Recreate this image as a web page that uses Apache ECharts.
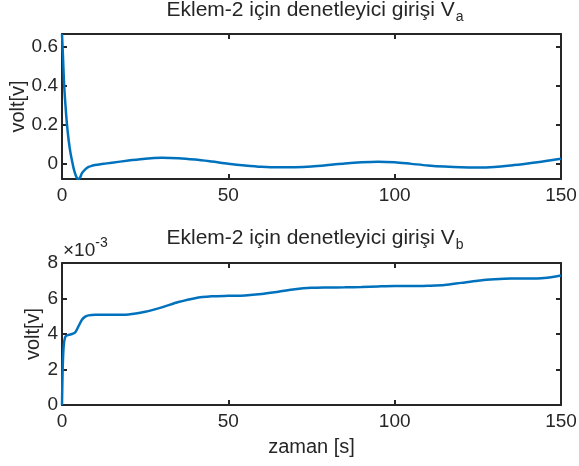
<!DOCTYPE html>
<html>
<head>
<meta charset="utf-8">
<script src="https://cdn.jsdelivr.net/npm/echarts@6/dist/echarts.min.js"></script>
<style>
  html, body { margin: 0; padding: 0; background: #fff; }
  #chart { width: 579px; height: 466px; }
</style>
</head>
<body>
<div id="chart"></div>
<script>
// time [s] and controller input V_a
var timeA = [0, 0.3, 0.6, 1, 1.5, 2, 2.5, 3, 3.5, 4, 4.5, 5, 5.5, 6, 7, 8, 9, 10, 12, 15,
  20, 25, 30, 35, 40, 45, 50, 55, 60, 65, 70, 75, 80, 85, 90, 95, 100, 105, 110, 115,
  120, 125, 130, 135, 140, 145, 150]
var va = [0.668, 0.55, 0.42, 0.31, 0.2, 0.12, 0.06, 0.015, -0.025, -0.055, -0.075, -0.08, -0.07, -0.05, -0.03, -0.018, -0.012, -0.008, -0.003, 0.004,
  0.015, 0.025, 0.029, 0.027, 0.02, 0.01, -0.001, -0.01, -0.017, -0.02, -0.019, -0.015, -0.008, 0.0, 0.006, 0.009, 0.006, -0.002, -0.01, -0.016,
  -0.02, -0.021, -0.018, -0.01, 0.0, 0.011, 0.024]

// time [s] and controller input V_b (in units of 1e-3)
var timeB = [0, 0.2, 0.5, 1, 2, 3, 4, 5, 6, 7, 8, 10, 15, 20, 25, 30, 35, 40, 45, 50,
  55, 60, 65, 70, 75, 80, 85, 90, 95, 100, 105, 110, 115, 120, 125, 130, 135, 140, 145, 150]
var vb = [0, 2.0, 3.3, 3.85, 3.95, 4.0, 4.1, 4.45, 4.8, 4.98, 5.05, 5.08, 5.08, 5.1, 5.25, 5.5, 5.8, 6.02, 6.12, 6.15,
  6.17, 6.25, 6.38, 6.52, 6.6, 6.62, 6.63, 6.65, 6.68, 6.7, 6.7, 6.72, 6.76, 6.88, 7.0, 7.08, 7.12, 7.12, 7.15, 7.3]

var xTicks = [0, 50, 100, 150]
var yTicksA = [0, 0.2, 0.4, 0.6]
var yTicksB = [0, 2, 4, 6, 8]

function pairs(xs, ys) {
  return xs.map(function (x, i) { return [x, ys[i]] })
}

var font = 'Liberation Sans, Arial, sans-serif'
var ink = '#262626'
var lineBlue = '#0072BD'

function xAx(grid, pos, labels, name) {
  return {
    type: 'value', gridIndex: grid, position: pos, min: 0, max: 150,
    name: name || '', nameLocation: 'middle', nameGap: 32, nameMoveOverlap: false,
    nameTextStyle: { fontFamily: font, fontSize: 20, color: ink },
    axisLine: { show: true, onZero: false, lineStyle: { color: ink, width: 2 } },
    axisTick: { show: true, inside: true, length: 5, customValues: xTicks, lineStyle: { color: ink, width: 2 } },
    axisLabel: { show: labels, customValues: xTicks, margin: 7, fontFamily: font, fontSize: 19, color: ink },
    splitLine: { show: false }
  }
}

function yAx(grid, pos, min, max, ticks, labels, gap) {
  return {
    type: 'value', gridIndex: grid, position: pos, min: min, max: max,
    name: labels ? 'volt[v]' : '', nameLocation: 'middle', nameGap: gap, nameMoveOverlap: false,
    nameTextStyle: { fontFamily: font, fontSize: 20, color: ink },
    axisLine: { show: true, onZero: false, lineStyle: { color: ink, width: 2 } },
    axisTick: { show: true, inside: true, length: 5, customValues: ticks, lineStyle: { color: ink, width: 2 } },
    axisLabel: { show: labels, customValues: ticks, margin: 4, fontFamily: font, fontSize: 19, color: ink },
    splitLine: { show: false }
  }
}

var titleRich = {
  n: { fontFamily: font, fontSize: 21, fontWeight: 'normal', color: ink, lineHeight: 24, verticalAlign: 'top' },
  s: { fontFamily: font, fontSize: 14, fontWeight: 'normal', color: ink, lineHeight: 14, verticalAlign: 'bottom', padding: [19, 0, 0, 1] }
}

var chart = echarts.init(document.getElementById('chart'), null, { renderer: 'canvas' })
chart.setOption({
  backgroundColor: '#fff',
  animation: false,
  title: [
    { text: '{n|Eklem-2 için denetleyici girişi V}{s|a}', left: 315, top: 0, padding: 0, textAlign: 'center',
      textStyle: { fontWeight: 'normal', rich: titleRich } },
    { text: '{n|Eklem-2 için denetleyici girişi V}{s|b}', left: 315, top: 228, padding: 0, textAlign: 'center',
      textStyle: { fontWeight: 'normal', rich: titleRich } },
    { text: '{m|×10}{e|-3}', left: 63, top: 236, padding: 0,
      textStyle: { fontWeight: 'normal', rich: {
        m: { fontFamily: font, fontSize: 19, fontWeight: 'normal', color: ink, lineHeight: 24, verticalAlign: 'bottom' },
        e: { fontFamily: font, fontSize: 14, fontWeight: 'normal', color: ink, lineHeight: 14, verticalAlign: 'top' }
      } } }
  ],
  grid: [
    { left: 62, right: 18, top: 34, height: 145, outerBoundsMode: 'none' },
    { left: 62, right: 18, top: 263, height: 142, outerBoundsMode: 'none' }
  ],
  xAxis: [
    xAx(0, 'bottom', true),
    xAx(0, 'top', false),
    xAx(1, 'bottom', true, 'zaman [s]'),
    xAx(1, 'top', false)
  ],
  yAxis: [
    yAx(0, 'left', -0.08, 0.668, yTicksA, true, 34),
    yAx(0, 'right', -0.08, 0.668, yTicksA, false, 0),
    yAx(1, 'left', 0, 8, yTicksB, true, 19),
    yAx(1, 'right', 0, 8, yTicksB, false, 0)
  ],
  series: [
    { type: 'line', xAxisIndex: 0, yAxisIndex: 0, data: pairs(timeA, va), showSymbol: false,
      smooth: 0.3, lineStyle: { color: lineBlue, width: 2.5 } },
    { type: 'line', xAxisIndex: 2, yAxisIndex: 2, data: pairs(timeB, vb), showSymbol: false,
      smooth: 0.3, lineStyle: { color: lineBlue, width: 2.5 } }
  ]
})
</script>
</body>
</html>
